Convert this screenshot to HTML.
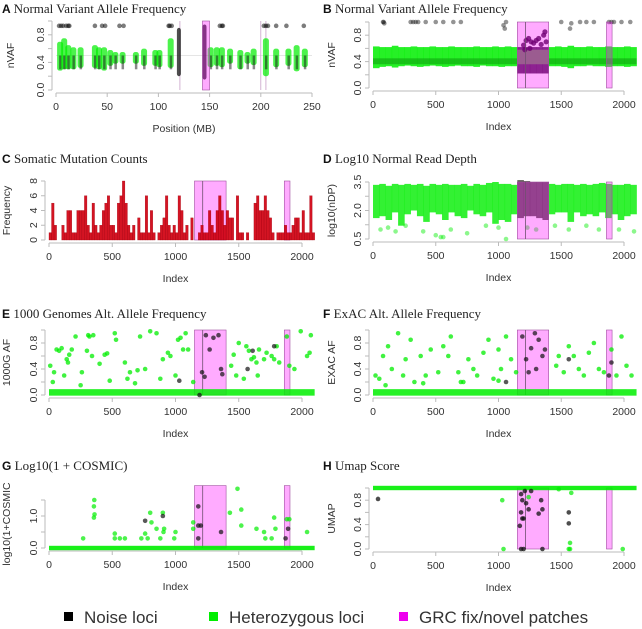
<!DOCTYPE html>
<html><head><meta charset="utf-8"><style>
html,body{margin:0;padding:0;background:#fff}
svg{display:block}
text{font-family:"Liberation Sans",sans-serif;fill:#333}
.ttl{font-family:"Liberation Serif",serif;font-size:13px;fill:#222}
.lt{font-family:"Liberation Sans",sans-serif;font-weight:bold;font-size:12px;fill:#111}
</style></head><body>
<svg id="fig" width="642" height="629" viewBox="0 0 642 629"></svg>
<script>
// ---- data ----
const clustA=[4,8,12,17,24,38,42,47,53,58,65,78,86,97,101,112,121,146,151,157,162,170,180,187,193,205,215,227,235,243];
const loA=[.28,.3,.3,.3,.32,.32,.3,.28,.35,.38,.38,.38,.35,.35,.33,.32,.2,.15,.33,.35,.33,.38,.3,.38,.36,.2,.33,.35,.27,.33];
const hiA=[.7,.75,.65,.62,.62,.65,.62,.62,.58,.55,.55,.55,.6,.58,.58,.75,.9,.95,.62,.62,.62,.6,.58,.55,.6,.75,.6,.6,.65,.6];
const topA=[3,5,7,10,12,13,38,45,48,62,66,110,111,113,160,162,163,203,205,207,215,225,242];
const binB=[0,50,100,150,200,250,300,350,400,450,500,550,600,650,700,750,800,850,900,950,1000,1050,1100,1150,1200,1250,1300,1350,1400,1450,1500,1550,1600,1650,1700,1750,1800,1850,1900,1950,2000,2050];
const loB=[.3,.32,.33,.31,.33,.34,.33,.32,.33,.34,.33,.32,.33,.34,.33,.33,.32,.34,.33,.33,.32,.33,.33,.22,.22,.22,.22,.22,.33,.33,.32,.3,.33,.33,.34,.33,.33,.32,.33,.33,.32,.33];
const hiB=[.63,.62,.62,.64,.62,.62,.63,.62,.62,.63,.62,.62,.63,.62,.62,.62,.63,.62,.62,.63,.62,.63,.62,.62,.62,.62,.62,.62,.62,.63,.62,.64,.62,.62,.63,.62,.62,.63,.62,.62,.63,.62];
const topBx=[80,85,90,300,320,340,360,420,500,560,640,700,1040,1050,1060,1500,1570,1580,1650,1700,1760,1880,1900,1920,1980,2050];
const topBy=[1,1,.98,1,1,1,1,1,1,1,1,1,.95,.9,1,1,.9,.98,1,1,1,1,1,1,1,1];
const purpBx=[1200,1220,1240,1260,1280,1300,1320,1340,1360,1370,1380,1210,1250];
const purpBy=[.65,.72,.75,.7,.68,.72,.75,.66,.8,.85,.7,.58,.6];
const countsC=[1,5,2,0,0,2,1,4,4,1,1,4,4,4,6,2,1,5,2,1,2,4,5,6,2,2,1,5,6,8,5,2,1,2,0,3,1,1,6,1,4,1,0,1,2,3,6,2,1,2,1,6,4,1,2,0,3,0,0,1,2,1,1,4,2,1,4,6,4,2,4,3,3,0,6,1,1,0,1,0,0,5,6,4,4,6,4,3,1,0,1,1,1,2,1,1,2,3,3,1,4,1,1,6,1];
const loD=[1.6,1.7,1.5,1.9,1.2,1.8,2.0,1.7,1.4,1.9,1.8,1.5,1.9,1.7,1.6,2.0,1.8,1.7,1.9,1.3,1.5,1.4,1.8,1.6,1.7,1.7,1.6,1.5,1.8,1.9,1.9,1.4,1.9,1.7,1.8,1.7,1.9,1.6,1.8,1.5,1.7,1.8];
const hiD=[3.35,3.4,3.3,3.4,3.35,3.4,3.35,3.4,3.3,3.4,3.35,3.4,3.35,3.35,3.4,3.3,3.4,3.35,3.45,3.5,3.4,3.4,3.35,3.6,3.55,3.5,3.5,3.5,3.4,3.35,3.4,3.4,3.35,3.4,3.35,3.4,3.45,3.4,3.35,3.35,3.4,3.35];
const outDx=[60,120,180,260,400,500,540,560,620,750,900,1000,1060,1230,1300,1450,1560,1700,1800,1960,2080];
const outDy=[1.0,1.1,0.9,1.2,0.9,0.7,0.6,0.6,1.0,0.8,1.2,1.1,0.5,1.1,1.0,1.2,1.0,1.2,1.0,1.0,0.9];
const eX=[10,40,60,80,100,120,140,150,160,180,210,260,300,310,320,340,350,400,440,460,520,530,600,620,640,700,720,760,800,850,900,940,960,1000,1020,1040,1060,1080,1100,1140,1440,1460,1480,1500,1540,1560,1580,1600,1620,1640,1660,1700,1720,1760,1780,1800,1820,1880,1900,1940,1990,2040,2060,2070,30,250,480,680,880,1650];
const eY=[.45,.35,.7,.68,.72,.3,.55,.5,.62,.7,.9,.35,.68,.92,.9,.6,.92,.48,.62,.64,.95,.85,.5,.25,.35,.38,.9,.4,.98,.95,.55,.65,.6,.3,.85,.88,.7,.95,.7,.2,.45,.62,.3,.8,.25,.75,.68,.55,.58,.5,.7,.55,.65,.6,.55,.75,.5,.9,.45,.4,.98,.6,.65,.92,.2,.15,.22,.18,.25,.3];
const eNx=[1030,1190,1240,1270,1300,1340,1360,1370,1780,1570,1610,1210,1230];
const eNy=[.22,0.0,.92,.7,.88,.92,.4,.32,.75,.4,.68,.35,.28];
const fX=[20,50,80,120,150,200,240,260,300,330,380,420,460,520,560,600,620,680,720,760,800,830,880,920,960,1000,1020,1060,1100,1140,1460,1480,1520,1560,1600,1640,1680,1720,1760,1800,1840,1900,1940,1980,2020,2060,100,400,700,1000];
const fY=[.3,.25,.6,.75,.4,.95,.3,.55,.85,.2,.6,.3,.7,.35,.75,.6,.9,.35,.2,.55,.4,.3,.65,.85,.25,.7,.4,.9,.55,.35,.45,.6,.35,.75,.6,.4,.3,.65,.8,.4,.35,.7,.3,.9,.45,.3,.15,.18,.2,.22];
const fNx=[1190,1220,1260,1290,1320,1350,1370,1240,1300,1560,1880,1900,1060];
const fNy=[.9,.55,.72,.95,.85,.6,.7,.35,.4,.55,.3,.5,.2];
const gX=[270,355,360,355,358,520,520,560,600,730,760,800,810,780,850,880,900,905,910,990,1000,1140,1140,1430,1490,1520,1520,1640,1700,1710,1760,1780,1790,2040,1880,1900];
const gY=[.3,.95,1.05,1.3,1.5,.45,.3,.3,.3,.3,.45,1.1,.8,.3,.6,.3,1.1,.5,.6,.3,.5,.8,.6,1.1,1.85,1.2,.7,.6,.5,.3,.3,.95,.6,.5,.9,.9];
const gNx=[760,900,1180,1180,1200,1360,1890,1870,1180];
const gNy=[.85,1.0,1.3,.7,.7,.5,.6,.3,.3];
const hX=[1040,1560,1570,1570,1030,1990,1240,1480,1580];
const hY=[0,0,0,.1,.8,0,.85,.98,.92];
const hNx=[1180,1190,1200,1210,1220,1240,1320,1340,1350,1180,1200,1560,1560,1180,1190,40,1170,1260,1350];
const hNy=[.6,.8,.5,.95,.75,.65,.58,.8,.65,0,0,.6,.42,.9,.5,.82,.38,.95,0];
// ---- drawing ----
const NS="http://www.w3.org/2000/svg";
const svg=document.getElementById('fig');
function el(tag,a,parent){const e=document.createElementNS(NS,tag);for(const k in a)e.setAttribute(k,a[k]);(parent||svg).appendChild(e);return e;}
function panel(p){
  const g=el('g',{});
  
  
  p.g=g;
  p.sx=v=>p.x0+(v-p.d0)/(p.d1-p.d0)*(p.x1-p.x0);
  p.sy=v=>p.y0+(v-p.v0)/(p.v1-p.v0)*(p.y1-p.y0);
  const t=el('text',{x:p.tx,y:p.ty},g);
  
  
  const ts=el('tspan',{class:'lt'},t);ts.textContent=p.id+' ';
  const ts2=el('tspan',{class:'ttl'},t);ts2.textContent=p.title;
  const ax=p.x0-4, ay=p.sy(p.v0)+3;
  const ya=el('line',{x1:ax,x2:ax,y1:p.sy(p.yt[0]),y2:p.sy(p.yt[p.yt.length-1]),stroke:'#bbb'},g);
  
  
  p.yt.forEach((v,i)=>{
    el('line',{x1:ax-4,x2:ax,y1:p.sy(v),y2:p.sy(v),stroke:'#bbb'},g);
    if(p.yl[i]!==''){const tx=el('text',{x:ax-8,y:p.sy(v),'font-size':10.5,'text-anchor':'middle',transform:`rotate(-90 ${ax-8} ${p.sy(v)})`},g);
    
    
    tx.textContent=p.yl[i];}
  });
  const xa=el('line',{x1:p.sx(p.xt[0]),x2:p.sx(p.xt[p.xt.length-1]),y1:ay,y2:ay,stroke:'#bbb'},g);
  
  
  p.xt.forEach(v=>{
    el('line',{x1:p.sx(v),x2:p.sx(v),y1:ay,y2:ay+4,stroke:'#bbb'},g);
    const tx=el('text',{x:p.sx(v),y:ay+17,'font-size':10.5,'text-anchor':'middle'},g);
    
    
    tx.textContent=v;
  });
  const yl=el('text',{x:p.ylx,y:(p.sy(p.yt[0])+p.sy(p.yt[p.yt.length-1]))/2,'font-size':10.5,'text-anchor':'middle',transform:`rotate(-90 ${p.ylx} ${(p.sy(p.yt[0])+p.sy(p.yt[p.yt.length-1]))/2})`},g);
  
  
  yl.textContent=p.ylab;
  const xl=el('text',{x:(p.sx(p.xt[0])+p.sx(p.xt[p.xt.length-1]))/2,y:ay+39,'font-size':10.5,'text-anchor':'middle'},g);
  
  
  xl.textContent=p.xlab;
  return p;
}
function pt(p,x,y,col,op,r){
  const c=el('circle',{cx:p.sx(x),cy:p.sy(y),r:r||2.3,fill:col,'fill-opacity':op},p.g);
  
  
}
function patches(p,vTop,ranges){
  ranges.forEach(r=>{
    const x=p.sx(r[0]),w=p.sx(r[1])-x,yt=p.sy(vTop),yb=p.sy(p.v0);
    const rc=el('rect',{x:x,y:yt,width:w,height:yb-yt,fill:'#ff00ff','fill-opacity':0.33,stroke:'#a050a0','stroke-width':0.6},p.g);
    
    
    if(r[2]){const l=el('line',{x1:p.sx(r[2]),x2:p.sx(r[2]),y1:yt,y2:yb,stroke:'#705070','stroke-width':0.8},p.g);
    
    }
  });
}
const idxT=[0,500,1000,1500,2000];
const PR=[[1150,1400,1215],[1860,1905]];
const G='#00ee00';
// A
const A=panel({id:'A',title:'Normal Variant Allele Frequency',tx:2,ty:13,x0:56,x1:312,d0:0,d1:250,y0:90,y1:21,v0:0,v1:1,yt:[0,.2,.4,.6,.8,1],yl:['0.0','','0.4','','0.8',''],xt:[0,50,100,150,200,250],ylx:14,ylab:'nVAF',xlab:'Position (MB)'});
el('line',{x1:56,x2:312,y1:A.sy(.5),y2:A.sy(.5),stroke:'#ccc','stroke-width':0.6},A.g);
[121,205,200].forEach(v=>el('line',{x1:A.sx(v),x2:A.sx(v),y1:A.sy(1),y2:A.sy(0),stroke:'#c8a0c8','stroke-width':0.8},A.g));
clustA.forEach((x,i)=>{
  const dark=(x===121||x===146);
  const r=el('rect',{x:A.sx(x)-3,y:A.sy(hiA[i]),width:dark?4:6,height:A.sy(loA[i])-A.sy(hiA[i]),rx:2.5,fill:dark?'#111':G,'fill-opacity':dark?0.75:0.7},A.g);
  
  
  if(!dark){const d=el('rect',{x:A.sx(x)-1,y:A.sy(.5),width:2.5,height:A.sy(.3)-A.sy(.5),fill:'#111','fill-opacity':0.5},A.g);
  
  }
});
topA.forEach(x=>pt(A,x,.93,'#111',0.55));
patches(A,1,[[143,150]]);
// B
const B=panel({id:'B',title:'Normal Variant Allele Frequency',tx:323,ty:13,x0:373,x1:624,d0:0,d1:2000,y0:88,y1:22,v0:0,v1:1,yt:[0,.2,.4,.6,.8,1],yl:['0.0','','0.4','','0.8',''],xt:idxT,ylx:335,ylab:'nVAF',xlab:'Index'});
binB.forEach((x,i)=>{
  const r=el('rect',{x:B.sx(x),y:B.sy(hiB[i]),width:B.sx(50)-B.sx(0)+0.3,height:B.sy(loB[i])-B.sy(hiB[i]),fill:(x>=1150&&x<1400)?'#3a1040':G,'fill-opacity':(x>=1150&&x<1400)?0.85:0.85},B.g);
  
  
  if(!(x>=1150&&x<1400)){const d=el('rect',{x:B.sx(x),y:B.sy(.45),width:B.sx(50)-B.sx(0),height:B.sy(.36)-B.sy(.45),fill:'#060','fill-opacity':0.35},B.g);
  
  }
});
el('rect',{x:B.sx(1150),y:B.sy(.58),width:B.sx(1400)-B.sx(1150),height:B.sy(.36)-B.sy(.58),fill:'#6a8a5a'},B.g);
topBx.forEach((x,i)=>pt(B,x,topBy[i],'#111',0.45));
purpBx.forEach((x,i)=>pt(B,x,purpBy[i],'#2a0030',0.8,2.6));
patches(B,1,PR);
// C
const C=panel({id:'C',title:'Somatic Mutation Counts',tx:2,ty:163,x0:49,x1:302,d0:0,d1:2000,y0:240,y1:181,v0:0,v1:8,yt:[0,2,4,6,8],yl:['0','2','4','6','8'],xt:idxT,ylx:10,ylab:'Frequency',xlab:'Index'});
patches(C,8,PR);
countsC.forEach((v,i)=>{
  if(v<=0)return;
  const x=C.sx(i*20),w=C.sx(20)-C.sx(0);
  const r=el('rect',{x:x,y:C.sy(v),width:w,height:C.sy(0)-C.sy(v),fill:'#d00010','fill-opacity':0.92,stroke:'#a00010','stroke-width':0.3},C.g);
  
  
});
// D
const D=panel({id:'D',title:'Log10 Normal Read Depth',tx:323,ty:163,x0:373,x1:624,d0:0,d1:2000,y0:239,y1:182,v0:0.5,v1:3.5,yt:[0.5,1.25,2,2.75,3.5],yl:['0.5','','2.0','','3.5'],xt:idxT,ylx:335,ylab:'log10(nDP)',xlab:'Index'});
binB.forEach((x,i)=>{
  const inP=(x>=1150&&x<1400);
  const r=el('rect',{x:D.sx(x),y:D.sy(hiD[i]),width:D.sx(50)-D.sx(0)+0.3,height:D.sy(loD[i])-D.sy(hiD[i]),fill:inP?'#3a3a30':G,'fill-opacity':inP?0.8:0.8},D.g);
  
  
});
outDx.forEach((x,i)=>pt(D,x,outDy[i],G,0.45));
patches(D,3.5,PR);
// E
const E=panel({id:'E',title:'1000 Genomes Alt. Allele Frequency',tx:2,ty:318,x0:49,x1:302,d0:0,d1:2000,y0:395,y1:330,v0:0,v1:1,yt:[0,.2,.4,.6,.8,1],yl:['0.0','','0.4','','0.8',''],xt:idxT,ylx:10,ylab:'1000G AF',xlab:'Index'});
patches(E,1,PR);
const be=el('rect',{x:E.sx(0),y:E.sy(.09),width:E.sx(2100)-E.sx(0),height:E.sy(-.01)-E.sy(.09),fill:G,'fill-opacity':0.85},E.g);


eX.forEach((x,i)=>pt(E,x,eY[i],G,0.75));
eNx.forEach((x,i)=>pt(E,x,eNy[i],'#111',0.7));
// F
const F=panel({id:'F',title:'ExAC Alt. Allele Frequency',tx:323,ty:318,x0:373,x1:624,d0:0,d1:2000,y0:395,y1:330,v0:0,v1:1,yt:[0,.2,.4,.6,.8,1],yl:['0.0','','0.4','','0.8',''],xt:idxT,ylx:335,ylab:'EXAC AF',xlab:'Index'});
patches(F,1,PR);
const bf=el('rect',{x:F.sx(0),y:F.sy(.09),width:F.sx(2100)-F.sx(0),height:F.sy(-.01)-F.sy(.09),fill:G,'fill-opacity':0.85},F.g);


fX.forEach((x,i)=>pt(F,x,fY[i],G,0.75));
fNx.forEach((x,i)=>pt(F,x,fNy[i],'#111',0.7));
// G
const Gp=panel({id:'G',title:'Log10(1 + COSMIC)',tx:2,ty:470,x0:49,x1:302,d0:0,d1:2000,y0:548,y1:516,v0:0,v1:1,yt:[0,.5,1,1.5],yl:['0.0','','1.0',''],xt:idxT,ylx:10,ylab:'log10(1+COSMIC',xlab:'Index'});
patches(Gp,1.95,PR);
const bg=el('rect',{x:Gp.sx(0),y:Gp.sy(0)-2.2,width:Gp.sx(2100)-Gp.sx(0),height:4.4,fill:G,'fill-opacity':0.9},Gp.g);


gX.forEach((x,i)=>pt(Gp,x,gY[i],G,0.7));
gNx.forEach((x,i)=>pt(Gp,x,gNy[i],'#111',0.7));
// H
const H=panel({id:'H',title:'Umap Score',tx:323,ty:470,x0:373,x1:624,d0:0,d1:2000,y0:549,y1:488,v0:0,v1:1,yt:[0,.2,.4,.6,.8,1],yl:['0.0','','0.4','','0.8',''],xt:idxT,ylx:335,ylab:'UMAP',xlab:'Index'});
patches(H,1,PR);
const bh=el('rect',{x:H.sx(0),y:H.sy(1)-2.2,width:H.sx(2100)-H.sx(0),height:4.4,fill:G,'fill-opacity':0.9},H.g);


hX.forEach((x,i)=>pt(H,x,hY[i],G,0.7));
hNx.forEach((x,i)=>pt(H,x,hNy[i],'#111',0.75));
// legend
const legCols=['#000','#00ee00','#ee00ee'];
const legLabs=['Noise loci','Heterozygous loci','GRC fix/novel patches'];
const legX=[64,209,399];
legLabs.forEach((s,i)=>{
  const r=el('rect',{x:legX[i],y:612,width:9,height:9,fill:legCols[i]});
  
  
  const t=el('text',{x:legX[i]+20,y:623,'font-size':17,fill:'#111'});
  
  
  t.textContent=s;
});
</script>
</body></html>
